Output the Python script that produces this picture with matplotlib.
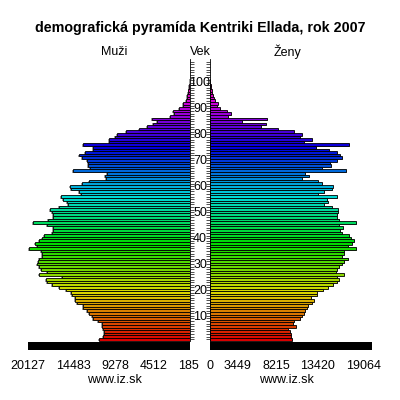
import colorsys
import matplotlib
matplotlib.use('Agg')
import matplotlib.pyplot as plt
import matplotlib.transforms as mtransforms

plt.rcParams['font.family'] = ['Liberation Sans', 'DejaVu Sans']

# age groups 0..100
ages = list(range(0, 101))

men = [11290, 10790, 10700, 10700, 10790, 10990, 10990, 11410, 12040, 12240,
       12530, 12780, 13280, 13360, 14030, 14310, 14310, 14720, 14810, 15430,
       16270, 17210, 17840, 17960, 15970, 18760, 17760, 18580, 18830, 19010,
       18960, 18790, 18380, 18460, 18550, 20000, 19080, 19260, 18760, 18380,
       18170, 17210, 17010, 17010, 17760, 19500, 17710, 17090, 17010, 17210,
       17430, 16270, 15150, 15310, 15810, 16060, 13570, 13820, 14810, 14940,
       13440, 12570, 10460, 10580, 10330, 14560, 12450, 12700, 12700, 12820,
       13440, 13820, 13070, 12070, 12070, 13320, 10080, 10080, 9340, 9090,
       7970, 6350, 5350, 4610, 4110, 4730, 2490, 1990, 2120, 1370,
       910, 830, 500, 370, 370, 250, 190, 120, 90, 60,
       40]

women = [10170, 10040, 10080, 9960, 9750, 10670, 10370, 10490, 11200, 11410,
         11700, 11820, 12040, 12160, 12730, 12980, 12570, 13360, 13280, 14100,
         14720, 15350, 15850, 16090, 15850, 16680, 15680, 15770, 16090, 16390,
         16680, 17210, 16390, 16680, 16680, 18140, 17140, 17710, 17960, 17510,
         17300, 16390, 16180, 16520, 16090, 18140, 16090, 15850, 15850, 15970,
         15970, 15150, 14190, 14720, 14530, 15770, 13480, 14190, 15150, 15250,
         13980, 13480, 11410, 12290, 11820, 16930, 13980, 15060, 14940, 15850,
         16390, 16220, 15850, 14770, 13160, 17340, 11700, 12660, 11200, 11410,
         10460, 8430, 6310, 6930, 3950, 7060, 2200, 2610, 2080, 1240,
         830, 1030, 590, 540, 410, 250, 190, 120, 90, 60,
         40]

scale_max = 20127
men_ticks = [20127, 14483, 9278, 4512, 185]
women_ticks = [0, 3449, 8215, 13420, 19064]
age_labels = list(range(10, 101, 10))

# rainbow from red (age 0) to magenta (age 100)
colors = [colorsys.hsv_to_rgb(((a * 3.25) % 360) / 360, 1, 0.85) for a in ages]

fig = plt.figure(figsize=(4, 4), dpi=100)


def rect(x0, x1, y0, y1):
    return [x0 / 400, 1 - y1 / 400, (x1 - x0) / 400, (y1 - y0) / 400]


ax_m = fig.add_axes(rect(28.3, 190, 59.2, 350.1))
ax_f = fig.add_axes(rect(210, 371.7, 59.2, 350.1))

for ax, vals, ticks in [(ax_m, men, men_ticks), (ax_f, women, women_ticks)]:
    # grey shadow, then coloured bars with black outline
    ax.barh([a - 0.3 for a in ages], [v + 120 for v in vals], height=1.0,
            color='#9a9a9a', linewidth=0)
    ax.barh(ages, vals, height=1.0, color=colors, edgecolor='black', linewidth=0.6)
    ax.barh(-2.55, scale_max, height=3.2, color='black', linewidth=0)
    ax.set_ylim(-4.2, 108)
    for s in ax.spines.values():
        s.set_visible(False)
    ax.set_xticks(ticks)
    ax.set_xticklabels([str(t) for t in ticks], fontsize=9)
    ax.tick_params(axis='x', length=0, pad=7)
    ax.set_yticks(range(0, 108))
    ax.tick_params(axis='y', length=3, width=0.6, direction='out', labelleft=False,
                   labelright=False, color='#333333')

ax_m.set_xlim(scale_max, 0)
ax_m.yaxis.tick_right()
ax_m.spines['right'].set_visible(True)
ax_m.spines['right'].set_bounds(-0.5, 108)
ax_m.spines['right'].set_linewidth(0.6)
ax_m.tick_params(axis='y', labelright=False)

ax_f.set_xlim(0, scale_max)
ax_f.yaxis.tick_left()
ax_f.spines['left'].set_visible(True)
ax_f.spines['left'].set_bounds(-0.5, 108)
ax_f.spines['left'].set_linewidth(0.6)
ax_f.tick_params(axis='y', labelleft=False)

trans = mtransforms.blended_transform_factory(fig.transFigure, ax_m.transData)
for a in age_labels:
    fig.text(0.5, a - 1.3, str(a), transform=trans, ha='center', va='center', fontsize=9)

fig.text(0.5, 1 - 28 / 400, 'demografická pyramída Kentriki Ellada, rok 2007',
         ha='center', va='center', fontsize=10.3, fontweight='bold')
fig.text(114 / 400, 1 - 52 / 400, 'Muži', ha='center', va='center', fontsize=9)
fig.text(0.5, 1 - 52 / 400, 'Vek', ha='center', va='center', fontsize=9)
fig.text(287 / 400, 1 - 52 / 400, 'Ženy', ha='center', va='center', fontsize=9)
fig.text(114 / 400, 1 - 380 / 400, 'www.iz.sk', ha='center', va='center', fontsize=9)
fig.text(286 / 400, 1 - 380 / 400, 'www.iz.sk', ha='center', va='center', fontsize=9)

fig.savefig('out.png', dpi=100)
